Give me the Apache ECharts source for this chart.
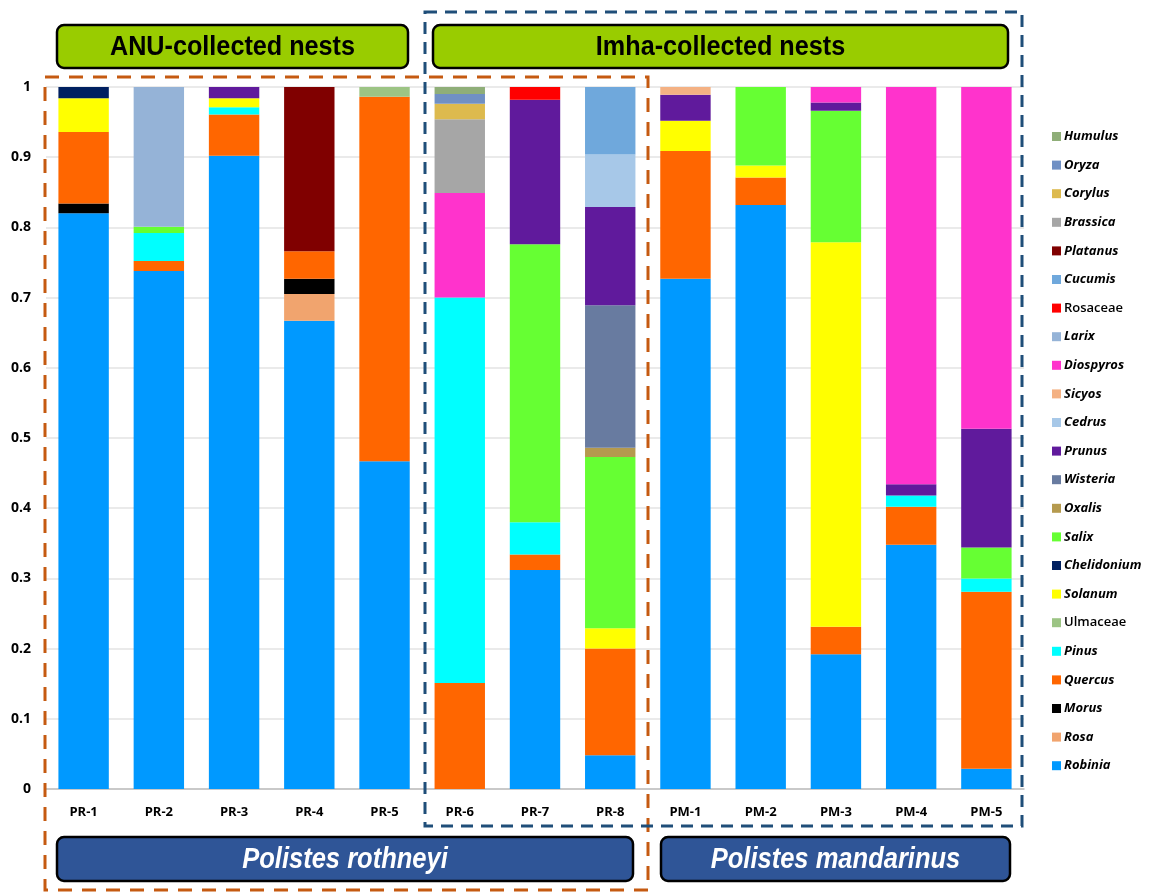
<!DOCTYPE html>
<html>
<head>
<meta charset="utf-8">
<script src="https://cdn.jsdelivr.net/npm/echarts@6/dist/echarts.min.js"></script>
<style>
  html, body { margin: 0; padding: 0; background: #ffffff; }
  #chart { width: 1154px; height: 893px; }
</style>
</head>
<body>
<div id="chart"></div>
<script>
// Nest samples, PR = Polistes rothneyi, PM = Polistes mandarinus
const nests = ["PR-1", "PR-2", "PR-3", "PR-4", "PR-5", "PR-6", "PR-7", "PR-8",
  "PM-1", "PM-2", "PM-3", "PM-4", "PM-5"];

// Proportions per taxon, bottom of stack first
const robinia     = [0.820, 0.738, 0.902, 0.667, 0.467, 0, 0.312, 0.048, 0.727, 0.832, 0.192, 0.348, 0.029];
const rosa        = [0, 0, 0, 0.038, 0, 0, 0, 0, 0, 0, 0, 0, 0];
const morus       = [0.014, 0, 0, 0.022, 0, 0, 0, 0, 0, 0, 0, 0, 0];
const quercus     = [0.102, 0.014, 0.059, 0.039, 0.519, 0.151, 0.022, 0.152, 0.182, 0.039, 0.039, 0.054, 0.252];
const pinus       = [0, 0.040, 0.010, 0, 0, 0.549, 0.046, 0, 0, 0, 0, 0.016, 0.019];
const ulmaceae    = [0, 0, 0, 0, 0.014, 0, 0, 0, 0, 0, 0, 0, 0];
const solanum     = [0.048, 0, 0.013, 0, 0, 0, 0, 0.029, 0.043, 0.017, 0.548, 0, 0];
const chelidonium = [0.016, 0, 0, 0, 0, 0, 0, 0, 0, 0, 0, 0, 0];
const salix       = [0, 0.009, 0, 0, 0, 0, 0.396, 0.244, 0, 0.112, 0.187, 0, 0.044];
const oxalis      = [0, 0, 0, 0, 0, 0, 0, 0.013, 0, 0, 0, 0, 0];
const wisteria    = [0, 0, 0, 0, 0, 0, 0, 0.203, 0, 0, 0, 0, 0];
const prunus      = [0, 0, 0.016, 0, 0, 0, 0.206, 0.140, 0.037, 0, 0.012, 0.016, 0.169];
const cedrus      = [0, 0, 0, 0, 0, 0, 0, 0.075, 0, 0, 0, 0, 0];
const sicyos      = [0, 0, 0, 0, 0, 0, 0, 0, 0.011, 0, 0, 0, 0];
const diospyros   = [0, 0, 0, 0, 0, 0.149, 0, 0, 0, 0, 0.022, 0.566, 0.487];
const larix       = [0, 0.199, 0, 0, 0, 0, 0, 0, 0, 0, 0, 0, 0];
const rosaceae    = [0, 0, 0, 0, 0, 0, 0.018, 0, 0, 0, 0, 0, 0];
const cucumis     = [0, 0, 0, 0, 0, 0, 0, 0.096, 0, 0, 0, 0, 0];
const platanus    = [0, 0, 0, 0.234, 0, 0, 0, 0, 0, 0, 0, 0, 0];
const brassica    = [0, 0, 0, 0, 0, 0.105, 0, 0, 0, 0, 0, 0, 0];
const corylus     = [0, 0, 0, 0, 0, 0.022, 0, 0, 0, 0, 0, 0, 0];
const oryza       = [0, 0, 0, 0, 0, 0.014, 0, 0, 0, 0, 0, 0, 0];
const humulus     = [0, 0, 0, 0, 0, 0.010, 0, 0, 0, 0, 0, 0, 0];

const yTicks = [0, 0.1, 0.2, 0.3, 0.4, 0.5, 0.6, 0.7, 0.8, 0.9, 1];

// family-level names are set upright, genera in italics
const uprightNames = ["Rosaceae", "Ulmaceae"];

const taxa = [
  ["Robinia", robinia, "#0099ff"],
  ["Rosa", rosa, "#f1a46e"],
  ["Morus", morus, "#000000"],
  ["Quercus", quercus, "#ff6600"],
  ["Pinus", pinus, "#00ffff"],
  ["Ulmaceae", ulmaceae, "#9cc484"],
  ["Solanum", solanum, "#ffff00"],
  ["Chelidonium", chelidonium, "#002060"],
  ["Salix", salix, "#66ff33"],
  ["Oxalis", oxalis, "#b59a4e"],
  ["Wisteria", wisteria, "#687ba0"],
  ["Prunus", prunus, "#601a9c"],
  ["Cedrus", cedrus, "#a7c8e8"],
  ["Sicyos", sicyos, "#f4b183"],
  ["Diospyros", diospyros, "#ff33cc"],
  ["Larix", larix, "#95b3d7"],
  ["Rosaceae", rosaceae, "#ff0000"],
  ["Cucumis", cucumis, "#6fa8dc"],
  ["Platanus", platanus, "#800000"],
  ["Brassica", brassica, "#a6a6a6"],
  ["Corylus", corylus, "#ddba4e"],
  ["Oryza", oryza, "#7090c4"],
  ["Humulus", humulus, "#8fae78"],
];

const FONT = "'Open Sans', 'Noto Sans', sans-serif";
const BOXFONT = "'Liberation Sans', 'DejaVu Sans', sans-serif";

const chart = echarts.init(document.getElementById("chart"));

function dashedBox(x, y, w, h, color, dash) {
  return {
    type: "rect",
    z: 100,
    shape: { x, y, width: w, height: h },
    style: { fill: null, stroke: color, lineWidth: 3, lineDash: dash },
  };
}

// rounded box with squeezed text, the original uses a condensed face
function labelBox(x, y, w, h, fill, text, font, color, squeeze) {
  return {
    type: "group",
    z: 110,
    children: [
      {
        type: "rect",
        shape: { x, y, width: w, height: h, r: 7 },
        style: { fill, stroke: "#000000", lineWidth: 2.5 },
      },
      {
        type: "text",
        x: x + w / 2,
        y: y + h / 2 + 1,
        scaleX: squeeze,
        style: {
          x: 0,
          y: 0,
          text,
          font,
          fill: color,
          align: "center",
          verticalAlign: "middle",
        },
      },
    ],
  };
}

chart.setOption({
  backgroundColor: "#ffffff",
  animation: false,
  textStyle: { fontFamily: FONT },
  grid: { left: 46, right: 130, top: 87, bottom: 104 },
  legend: {
    orient: "vertical",
    left: 1047,
    top: 125,
    itemWidth: 9,
    itemHeight: 9,
    itemGap: 15.6,
    icon: "rect",
    data: taxa.map((t) => t[0]).reverse(),
    formatter: (name) =>
      uprightNames.includes(name) ? "{n|" + name + "}" : "{i|" + name + "}",
    textStyle: {
      padding: [0, 0, 0, -2],
      rich: {
        i: { fontFamily: FONT, fontSize: 13, fontWeight: "bold", fontStyle: "italic", color: "#000", lineHeight: 16 },
        n: { fontFamily: FONT, fontSize: 13, fontWeight: 600, color: "#000", lineHeight: 16 },
      },
    },
  },
  xAxis: {
    type: "category",
    data: nests,
    axisTick: { show: false },
    axisLine: { lineStyle: { color: "#bfbfbf", width: 1.5 } },
    axisLabel: { color: "#000", fontWeight: "bold", fontSize: 13, margin: 17, fontFamily: FONT },
  },
  yAxis: {
    type: "value",
    min: yTicks[0],
    max: yTicks[yTicks.length - 1],
    interval: 0.1,
    axisLine: { show: false },
    axisTick: { show: false },
    axisLabel: { color: "#000", fontWeight: "bold", fontSize: 14, margin: 15, fontFamily: FONT },
    splitLine: { lineStyle: { color: "#e3e3e3", width: 1.5 } },
  },
  series: taxa.map(([name, values, color]) => ({
    name,
    type: "bar",
    stack: "total",
    barCategoryGap: "33%",
    itemStyle: { color },
    data: values.map((v) => (v === 0 ? null : v)),
  })),
  graphic: [
    dashedBox(45, 77, 603, 813, "#c55a11", [14, 10]),
    dashedBox(425, 12, 597, 814, "#1f4e79", [12, 8]),
    labelBox(57, 25, 351, 43, "#99cc00", "ANU-collected nests", "bold 28px " + BOXFONT, "#000000", 0.9),
    labelBox(433, 25, 575, 43, "#99cc00", "Imha-collected nests", "bold 28px " + BOXFONT, "#000000", 0.9),
    labelBox(57, 837, 576, 44, "#2f5597", "Polistes rothneyi", "italic bold 29px " + BOXFONT, "#ffffff", 0.88),
    labelBox(661, 837, 349, 44, "#2f5597", "Polistes mandarinus", "italic bold 29px " + BOXFONT, "#ffffff", 0.88),
  ],
});
</script>
</body>
</html>
